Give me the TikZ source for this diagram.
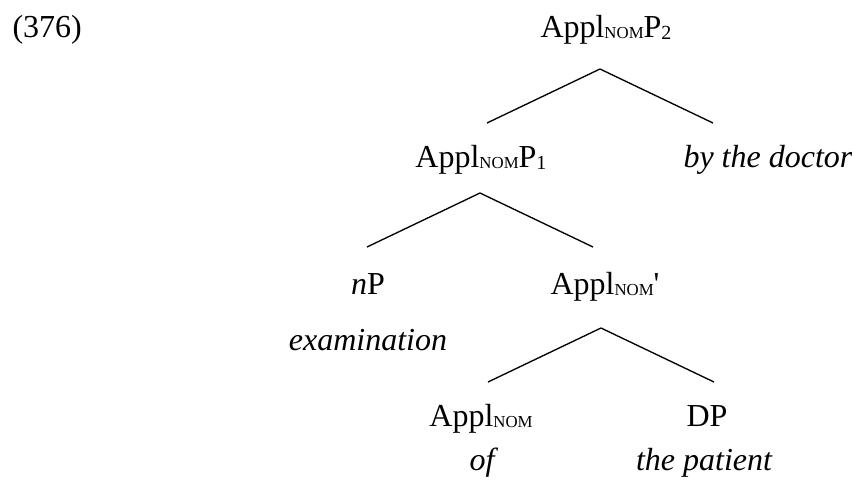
\documentclass[tikz,border=0pt]{standalone}
\usepackage{fontspec}
\setmainfont{Liberation Serif}
\usetikzlibrary{calc}
\newcommand{\nomsub}{\raisebox{-0.6pt}{\fontsize{6.3}{7}\selectfont NOM}}
\newcommand{\subidx}[1]{\raisebox{-0.8pt}{\fontsize{7.5}{8}\selectfont #1}}
\tikzset{
    cat/.style={
        anchor=base,
        inner sep=0pt,
        font=\fontsize{12}{14.4}\selectfont
    },
    lex/.style={cat, font=\fontsize{12}{14.4}\selectfont\itshape},
    branch/.style={line width=0.5pt, color=black}
}
\begin{document}
\begin{tikzpicture}[x=0.375pt, y=-0.375pt]
    \useasboundingbox (0,0) rectangle (852,485);
    \node[cat, anchor=base west] (num) at (12,37) {(376)};

    % Categories
    \node[cat] (p2) at (606,37) {Appl\nomsub P\subidx{2}};
    \node[cat] (p1) at (481,167) {Appl\nomsub P\subidx{1}};
    \node[cat] (np) at (368,294) {\textit{n}P};
    \node[cat, anchor=base west] (bar) at (550,294) {Appl\nomsub\textquotesingle};
    \node[cat] (appl) at (481,426) {Appl\nomsub};
    \node[cat] (dp) at (707,426) {DP};

    % Words
    \node[lex, anchor=base west] (doc) at (683,167) {by the doctor};
    \node[lex] (exam) at (368,350) {examination};
    \node[lex] (of) at (482,470) {of};
    \node[lex] (pat) at (704,470) {the patient};

    % Branches
    \draw[branch] ($(p2.base)+(-6,32)$) -- ($(p1.base)+(6,-44)$);
    \draw[branch] ($(p2.base)+(-6,32)$) -- ($(doc.base west)+(30,-44)$);
    \draw[branch] ($(p1.base)+(-1,26)$) -- ($(np.base)+(-1,-47)$);
    \draw[branch] ($(p1.base)+(-1,26)$) -- ($(bar.base west)+(43,-47)$);
    \draw[branch] ($(bar.base west)+(51,34)$) -- ($(appl.base)+(7,-44)$);
    \draw[branch] ($(bar.base west)+(51,34)$) -- ($(dp.base)+(7,-44)$);
\end{tikzpicture}
\end{document}
